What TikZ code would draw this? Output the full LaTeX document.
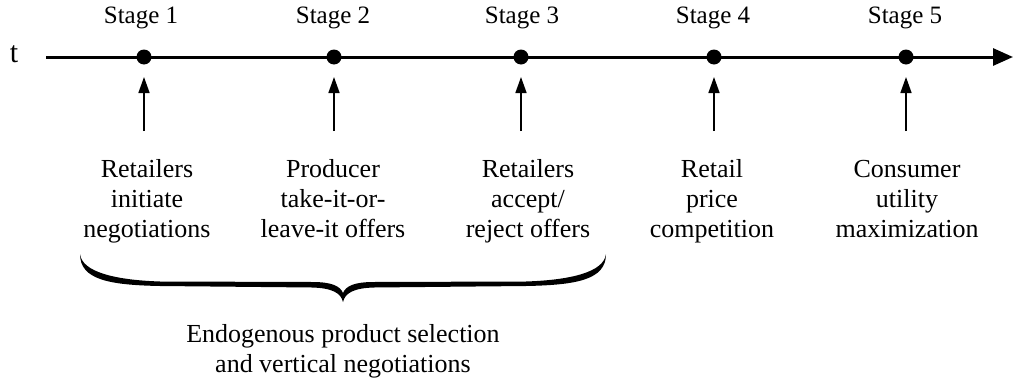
\documentclass[tikz,border=0pt]{standalone}
\usepackage{fontspec}
\setmainfont{Liberation Serif}
\usetikzlibrary{arrows.meta}
\begin{document}
\begin{tikzpicture}[x=1pt,y=-1pt,
  stagelbl/.style={font=\fontsize{25}{29}\selectfont, inner sep=0pt, anchor=base},
  desc/.style={font=\fontsize{26}{30}\selectfont, align=center, inner sep=0pt, anchor=base},
  dot/.style={circle, fill=black, minimum size=15pt, inner sep=0pt},
  axis/.style={line width=3pt, -{Triangle[length=20pt,width=17pt]}},
  up/.style={line width=1.5pt, -{Triangle[length=16pt,width=11pt]}}]
\useasboundingbox (0,0) rectangle (1013,383);
\node[font=\fontsize{30}{32}\selectfont, inner sep=0pt, anchor=base] (t) at (14,62) {t};
\coordinate (a0) at (46,57);
\coordinate (a1) at (1013,57);
\draw[axis] (a0) -- (a1);
\foreach \i/\x/\lx in {1/144/141, 2/334/333, 3/521/522, 4/714/713, 5/906/905}{
  \node[dot] (d\i) at (\x,57) {};
  \node[stagelbl] (s\i) at (\lx,23) {Stage \i};
  \coordinate (b\i) at (\x,131);
  \coordinate (u\i) at (\x,77);
  \draw[up] (b\i) -- (u\i);
}
\node[desc] (r1) at (147,237) {Retailers\\initiate\\negotiations};
\node[desc] (r2) at (333,237) {Producer\\take-it-or-\\leave-it offers};
\node[desc] (r3) at (528,237) {Retailers\\accept/\\reject offers};
\node[desc] (r4) at (712,237) {Retail\\price\\competition};
\node[desc] (r5) at (907,237) {Consumer\\utility\\maximization};
% brace
\fill (80,254) .. controls (80,280) and (110,285) .. (160,286) -- (312,287.5)
  .. controls (332,288) and (341,293) .. (343,302)
  .. controls (345,293) and (354,288) .. (374,287.5) -- (526,286)
  .. controls (576,285) and (606,280) .. (606,254)
  .. controls (604,272) and (571,280) .. (526,281.5) -- (374,282)
  .. controls (354,282) and (346,286) .. (343,293)
  .. controls (340,286) and (332,282) .. (312,282) -- (160,281.5)
  .. controls (115,280) and (82,272) .. (80,254) -- cycle;
\node[desc] (bt) at (343,372) {Endogenous product selection\\and vertical negotiations};
\end{tikzpicture}
\end{document}
